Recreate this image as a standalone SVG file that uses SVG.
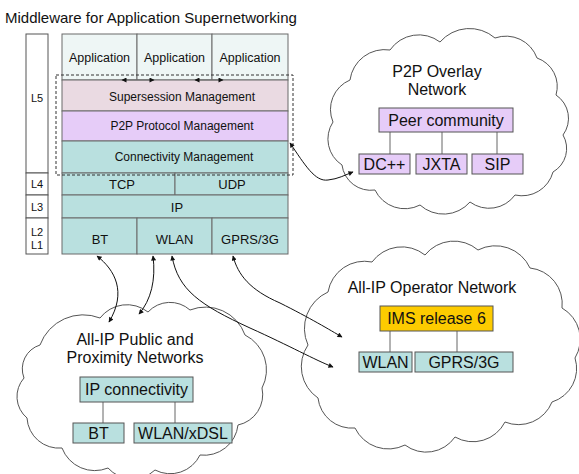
<svg xmlns="http://www.w3.org/2000/svg" width="579" height="474" viewBox="0 0 579 474">
<style>
text{font-family:"Liberation Sans",Arial,sans-serif;fill:#111;text-anchor:middle}
.cell{stroke:#6a6a6a;stroke-width:1}
.app{fill:#eef6f5}
.ss{fill:#eadae2}
.p2p{fill:#e6ccf8}
.teal{fill:#b9e0df}
.lyr{fill:#fff;stroke:#555;stroke-width:1}
.cloud{fill:#fff;stroke:#555;stroke-width:1}
.box{stroke:#555;stroke-width:1}
.tie{stroke:#666;stroke-width:1;fill:none}
.conn{stroke:#111;stroke-width:1;fill:none;marker-start:url(#ah);marker-end:url(#ah)}
.appconn{stroke:#6a6a6a;stroke-width:1;fill:none;marker-start:url(#ah);marker-end:url(#ah)}
.s11{font-size:11px}
.s12{font-size:12px}
.s13{font-size:13px}
.s16{font-size:16px}
</style>
<defs>
<marker id="ah" viewBox="0 0 10 10" refX="9" refY="5" markerWidth="6" markerHeight="5" markerUnits="userSpaceOnUse" orient="auto-start-reverse">
<path d="M0,0 L10,5 L0,10 z" fill="#111"/>
</marker>
</defs>
<rect width="579" height="474" fill="#fff"/>
<text x="5" y="23" style="font-size:15px;text-anchor:start">Middleware for Application Supernetworking</text>

<g id="layers">
<rect class="lyr" x="26" y="34" width="22" height="139"/>
<rect class="lyr" x="26" y="173" width="22" height="22"/>
<rect class="lyr" x="26" y="195" width="22" height="23"/>
<rect class="lyr" x="26" y="218" width="22" height="36"/>
<text class="s11" x="37" y="102">L5</text>
<text class="s11" x="37" y="188">L4</text>
<text class="s11" x="37" y="211">L3</text>
<text class="s11" x="37" y="236">L2</text>
<text class="s11" x="37" y="249">L1</text>
</g>

<g id="stack">
<rect class="cell app" x="62" y="34" width="75" height="46"/>
<rect class="cell app" x="137" y="34" width="75" height="46"/>
<rect class="cell app" x="212" y="34" width="76" height="46"/>
<text style="font-size:12.5px" x="99.5" y="62">Application</text>
<text style="font-size:12.5px" x="174.5" y="62">Application</text>
<text style="font-size:12.5px" x="250" y="62">Application</text>
<rect class="cell ss" x="62" y="80" width="226" height="31"/>
<text class="s12" x="182" y="101">Supersession Management</text>
<rect class="cell p2p" x="62" y="111" width="226" height="30"/>
<text class="s12" x="182" y="130">P2P Protocol Management</text>
<rect class="cell teal" x="62" y="141" width="226" height="32"/>
<text class="s12" x="184" y="161">Connectivity Management</text>
<rect class="cell teal" x="62" y="173" width="113" height="22"/>
<rect class="cell teal" x="175" y="173" width="113" height="22"/>
<text class="s13" x="122" y="189">TCP</text>
<text class="s13" x="232" y="189">UDP</text>
<rect class="cell teal" x="62" y="195" width="226" height="23"/>
<text class="s13" x="177" y="212">IP</text>
<rect class="cell teal" x="62" y="218" width="75" height="36"/>
<rect class="cell teal" x="137" y="218" width="75" height="36"/>
<rect class="cell teal" x="212" y="218" width="76" height="36"/>
<text class="s13" x="100" y="244">BT</text>
<text class="s13" x="174.5" y="244">WLAN</text>
<text class="s13" x="250" y="244">GPRS/3G</text>
<rect x="56" y="75" width="237" height="100" fill="none" stroke="#333" stroke-width="1" stroke-dasharray="3,2"/>
</g>

<g id="p2p-cloud">
<path class="cloud" d="M350,80 A35,35 0 0 1 390,50 A35,35 0 0 1 440,42 A39,39 0 0 1 495,38 A33,33 0 0 1 537,58 A30,30 0 0 1 556,95 A28,28 0 0 1 563,135 A27,27 0 0 1 553,172 A32,32 0 0 1 515,195 A32,32 0 0 1 470,202 A35,35 0 0 1 420,205 A33,33 0 0 1 375,190 A29,29 0 0 1 342,165 A31,31 0 0 1 333,122 A32,32 0 0 1 350,80 Z"/>
<text class="s16" x="437" y="77">P2P Overlay</text>
<text class="s16" x="437" y="95">Network</text>
<path class="tie" d="M390,132 V154 M442,132 V154 M497,132 V154"/>
<rect class="box p2p" x="379" y="108" width="134" height="24"/>
<text class="s16" x="446" y="126">Peer community</text>
<rect class="box p2p" x="359" y="154" width="51" height="20"/>
<text class="s16" x="384.5" y="170">DC++</text>
<rect class="box p2p" x="416" y="154" width="51" height="20"/>
<text class="s16" x="441.5" y="170">JXTA</text>
<rect class="box p2p" x="472" y="154" width="51" height="20"/>
<text class="s16" x="497.5" y="170">SIP</text>
</g>

<g id="public-cloud">
<path class="cloud" d="M40,345 A46,46 0 0 1 100,318 A34,34 0 0 1 148,312 A30,30 0 0 1 190,310 A42,42 0 0 1 245,335 A39,39 0 0 1 262,388 A31,31 0 0 1 238,425 A34,34 0 0 1 200,455 A33,33 0 0 1 155,470 A33,33 0 0 1 108,468 A35,35 0 0 1 62,448 A32,32 0 0 1 27,418 A28,28 0 0 1 24,378 A25,25 0 0 1 40,345 Z"/>
<text class="s16" x="135" y="345">All-IP Public and</text>
<text class="s16" x="135" y="363">Proximity Networks</text>
<path class="tie" d="M103,402 V423 M175,402 V423"/>
<rect class="box teal" x="80" y="377" width="113" height="25"/>
<text class="s16" x="136.5" y="395">IP connectivity</text>
<rect class="box teal" x="73" y="423" width="51" height="20"/>
<text class="s16" x="98.5" y="439">BT</text>
<rect class="box teal" x="134" y="423" width="98" height="20"/>
<text class="s16" x="183" y="439">WLAN/xDSL</text>
</g>

<g id="operator-cloud">
<path class="cloud" d="M328,292 A37,37 0 0 1 372,262 A37,37 0 0 1 425,255 A37,37 0 0 1 478,250 A38,38 0 0 1 530,268 A36,36 0 0 1 562,308 A36,36 0 0 1 575,358 A35,35 0 0 1 552,402 A36,36 0 0 1 505,422 A36,36 0 0 1 455,437 A35,35 0 0 1 405,445 A37,37 0 0 1 355,428 A34,34 0 0 1 318,398 A38,38 0 0 1 308,345 A40,40 0 0 1 328,292 Z"/>
<text class="s16" x="432" y="293">All-IP Operator Network</text>
<path class="tie" d="M390,331 V352 M457,331 V352"/>
<rect class="box" fill="#fdcb00" x="380" y="306" width="113" height="25"/>
<text class="s16" x="436.5" y="324">IMS release 6</text>
<rect class="box teal" x="359" y="352" width="53" height="20"/>
<text class="s16" x="385.5" y="368">WLAN</text>
<rect class="box teal" x="415" y="352" width="98" height="20"/>
<text class="s16" x="464" y="368">GPRS/3G</text>
</g>

<g id="connectors">
<line class="appconn" x1="122" y1="80" x2="154" y2="80"/>
<line class="appconn" x1="195" y1="80" x2="223" y2="80"/>
<path class="conn" d="M290,143 C305,165 315,182 328,180 C338,179 345,175 353,172"/>
<path class="conn" d="M97,256 C115,270 127,292 109,322"/>
<path class="conn" d="M153,256 C156,280 151,300 139,314"/>
<path class="conn" d="M172,256 C178,290 200,305 250,328 C290,346 315,360 333,367"/>
<path class="conn" d="M233,256 C238,275 250,290 280,303 C310,318 330,330 342,337"/>
</g>
</svg>
